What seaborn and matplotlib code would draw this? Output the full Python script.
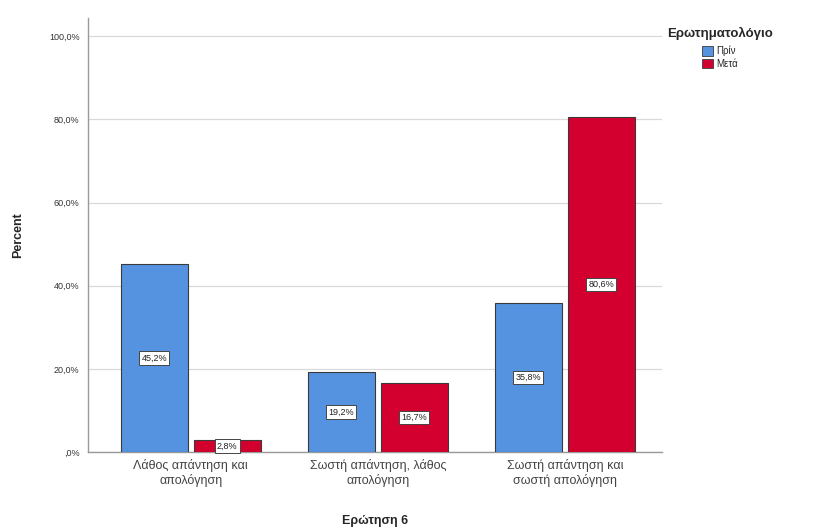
import matplotlib
matplotlib.use("Agg")
import matplotlib.pyplot as plt
import seaborn as sns
import pandas as pd
from matplotlib.patches import Patch

categories = ["Λάθος απάντηση και\nαπολόγηση",
              "Σωστή απάντηση, λάθος\nαπολόγηση",
              "Σωστή απάντηση και\nσωστή απολόγηση"]
groups = ["Πρίν", "Μετά"]
before_pct = [45.2, 19.2, 35.8]
after_pct = [2.8, 16.7, 80.6]
y_ticks = [0, 20, 40, 60, 80, 100]

df = pd.DataFrame({
    "cat": categories * 2,
    "group": [groups[0]] * 3 + [groups[1]] * 3,
    "pct": before_pct + after_pct,
})

sns.set_theme(style="white")
plt.rcParams["font.family"] = ["Arial", "Liberation Sans", "DejaVu Sans"]

colors = {"Πρίν": "#5592e0", "Μετά": "#d3002f"}

fig = plt.figure(figsize=(8.13, 5.30), dpi=100)
ax = fig.add_axes([88 / 813, 1 - 452 / 530, (662 - 88) / 813, (452 - 18) / 530])

sns.barplot(data=df, x="cat", y="pct", hue="group", palette=colors,
            saturation=1, width=0.78, gap=0.08, edgecolor="#3a3a3a",
            linewidth=0.8, legend=False, ax=ax, zorder=3)

ax.set_ylim(0, 104.4)
ax.set_xlim(-0.55, 2.52)
ax.set_yticks(y_ticks)
ax.set_yticklabels([",0%" if v == 0 else f"{v},0%" for v in y_ticks],
                   fontsize=6.5, color="#333333")
ax.tick_params(axis="x", labelsize=9, colors="#444444", length=0, pad=5)
ax.tick_params(axis="y", length=0, pad=6)
ax.yaxis.grid(True, color="#d9d9d9", linewidth=0.9, zorder=0)
ax.set_axisbelow(True)
for s in ["top", "right"]:
    ax.spines[s].set_visible(False)
for s in ["left", "bottom"]:
    ax.spines[s].set_color("#999999")
    ax.spines[s].set_linewidth(1.0)

ax.set_xlabel("Ερώτηση 6", fontsize=9, fontweight="bold", labelpad=20)
ax.set_ylabel("Percent", fontsize=9, fontweight="bold", labelpad=18)

# value labels centred on each bar
for cont in ax.containers:
    for bar in cont:
        h = bar.get_height()
        ax.text(bar.get_x() + bar.get_width() / 2, h / 2,
                f"{h:.1f}%".replace(".", ","), ha="center", va="center",
                fontsize=6.5, color="#222222", zorder=5,
                bbox=dict(boxstyle="square,pad=0.25", fc="white",
                          ec="#444444", lw=0.7))

handles = [Patch(facecolor=colors[g], edgecolor="#3a3a3a", linewidth=0.6, label=g)
           for g in groups]
leg = fig.legend(handles=handles, title="Ερωτηματολόγιο", loc="upper left",
                 bbox_to_anchor=(667 / 813, 1 - 27 / 530), frameon=False,
                 fontsize=7, title_fontsize=9.5, handlelength=1.1, handleheight=1.2,
                 handletextpad=0.3, labelspacing=0.25, borderaxespad=0,
                 borderpad=0)
leg.get_title().set_fontweight("bold")
leg._legend_box.align = "center"
leg._legend_box.sep = 4

fig.savefig("out.png", dpi=100)
